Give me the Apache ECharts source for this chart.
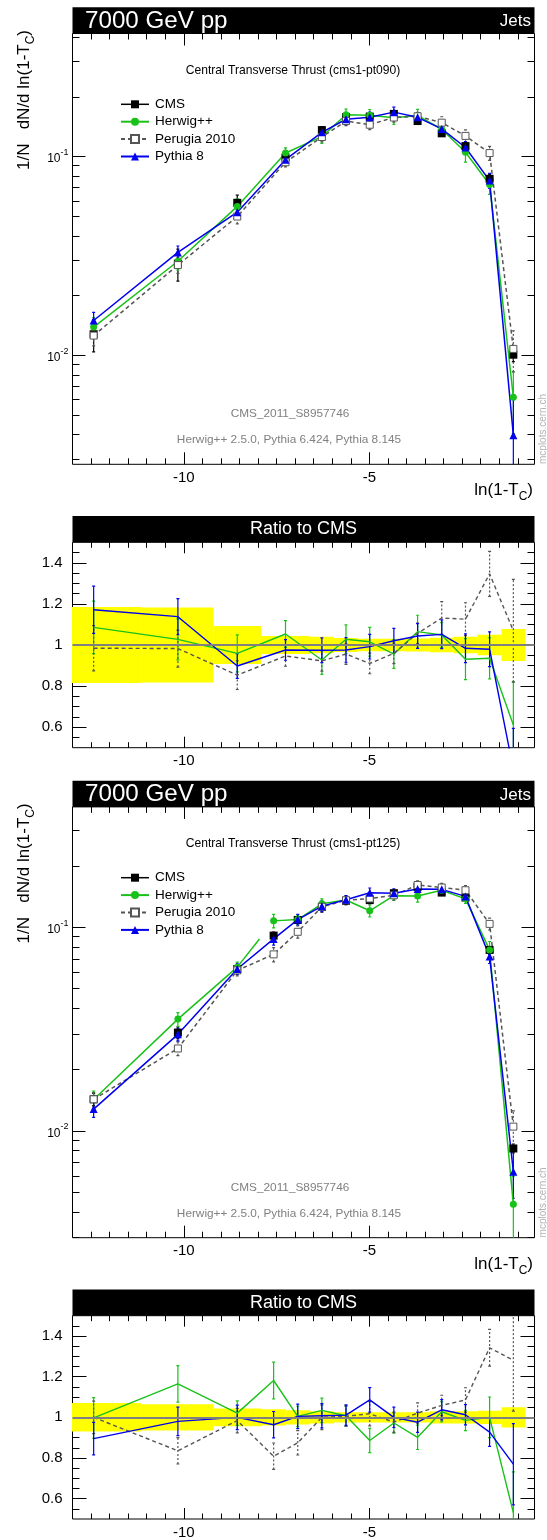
<!DOCTYPE html>
<html><head><meta charset="utf-8">
<script src="https://cdn.jsdelivr.net/npm/echarts@6/dist/echarts.min.js"></script>
<style>html,body{margin:0;padding:0;background:#fff}#c{width:547px;height:1540px}</style>
</head><body><div id="c"></div>
<script>
// ================= DATA =================
// x axis
const X_MIN = -13, X_MAX = -0.55;
const xMajorTicks = [-10, -5];
const xMinorTicks = [-12.5,-12,-11.5,-11,-10.5,-9.5,-9,-8.5,-8,-7.5,-7,-6.5,-6,-5.5,-4.5,-4,-3.5,-3,-2.5,-2,-1.5,-1];
const logMajorTicks = [0.01, 0.1];
const logMinorTicks = [0.003,0.004,0.005,0.006,0.007,0.008,0.009,0.02,0.03,0.04,0.05,0.06,0.07,0.08,0.09,0.2,0.3,0.4];
const ratioMajorTicks = [0.6, 0.8, 1, 1.2, 1.4];
const ratioMinorTicks = [0.55,0.65,0.7,0.75,0.85,0.9,0.95,1.05,1.1,1.15,1.25,1.3,1.35,1.45];

// panel 1 : cms1-pt090
const x1 = [-12.43,-10.16,-8.56,-7.26,-6.28,-5.63,-4.99,-4.34,-3.70,-3.05,-2.41,-1.76,-1.12];
const edges1 = [-13.7,-11.15,-9.2,-7.92,-6.6,-5.955,-5.31,-4.665,-4.02,-3.375,-2.73,-2.085,-1.44,-0.795];
const cms1 = [0.0128,0.0290,0.0586,0.0990,0.136,0.158,0.159,0.164,0.151,0.131,0.113,0.0774,0.0101];
const cms1RelErr = [0.185,0.183,0.092,0.044,0.040,0.034,0.030,0.030,0.032,0.035,0.040,0.050,0.078];
const herwig1 = [0.0139,0.0298,0.0562,0.1043,0.1261,0.1624,0.1615,0.1568,0.1608,0.1374,0.1052,0.0724,0.00617];
const herwig1Err = [0.128,0.10,0.09,0.065,0.07,0.07,0.07,0.07,0.08,0.06,0.10,0.10,0.21];
const perugia1 = [0.0126,0.0285,0.0500,0.0937,0.1255,0.1510,0.1447,0.1573,0.1596,0.1482,0.1272,0.1042,0.0108];
const perugia1Err = [0.11,0.09,0.07,0.05,0.05,0.05,0.05,0.05,0.05,0.08,0.08,0.11,0.25];
const pythia1 = [0.0150,0.0330,0.0526,0.0966,0.1325,0.1542,0.1577,0.1674,0.1576,0.1378,0.1112,0.0758,0.00398];
const pythia1Err = [0.115,0.088,0.06,0.05,0.06,0.06,0.06,0.06,0.06,0.07,0.07,0.085,0.2];

// panel 2 : cms1-pt125
const x2 = [-12.43,-10.16,-8.56,-7.58,-6.93,-6.28,-5.63,-4.99,-4.34,-3.70,-3.05,-2.41,-1.76,-1.12];
const edges2 = [-13.7,-11.15,-9.2,-7.92,-7.26,-6.6,-5.955,-5.31,-4.665,-4.02,-3.375,-2.73,-2.085,-1.44,-0.795];
const cms2 = [0.0143,0.0304,0.0624,0.0910,0.1086,0.126,0.135,0.136,0.147,0.158,0.148,0.140,0.0774,0.0082];
const cms2RelErr = [0.07,0.065,0.044,0.04,0.035,0.03,0.025,0.025,0.025,0.025,0.03,0.03,0.033,0.05];
const herwig2 = [0.01426,0.0354,0.0637,0.1075,0.1091,0.1303,0.1361,0.1205,0.1429,0.1425,0.1521,0.1379,0.0774,0.00436];
const herwig2Err = [0.1,0.09,0.06,0.09,0.05,0.06,0.05,0.06,0.05,0.06,0.05,0.05,0.1,0.2];
const perugia2 = [0.0143,0.0254,0.0614,0.0736,0.0950,0.1260,0.1357,0.1384,0.1435,0.1613,0.1567,0.1520,0.1039,0.0105];
const perugia2Err = [0.08,0.065,0.06,0.065,0.06,0.06,0.05,0.06,0.05,0.05,0.05,0.06,0.09,0.25];
const pythia2 = [0.0128,0.0298,0.0624,0.0877,0.1091,0.1270,0.1365,0.1477,0.1470,0.1542,0.1535,0.1418,0.0718,0.00631];
const pythia2Err = [0.08,0.07,0.06,0.065,0.06,0.06,0.05,0.06,0.05,0.05,0.05,0.05,0.07,0.2];

const subtitles = ['Central Transverse Thrust (cms1-pt090)','Central Transverse Thrust (cms1-pt125)'];

// ================= STYLE / LAYOUT =================
const FONT = "'Liberation Sans', Arial, Helvetica, sans-serif";
const FL = 72.5, FW = 462;
const OFF2 = 773.4;
const layout = [
  {top: 33.5, h: 430.8, logMin: 0.00284, logMax: 0.416},
  {top: 542.3, h: 205.4},
  {top: 33.5 + OFF2, h: 430.8, logMin: 0.00299, logMax: 0.390},
  {top: 542.3 + OFF2, h: 205.4}
];
const C_CMS = '#000000', C_HW = '#19c219', C_PE = '#555555', C_PY = '#0000ee';
// drawing quirk of the reference: in the 2nd plot the Herwig++ line segment after
// the 3rd point is drawn only part of the way to the next point
const HW2_BREAK_AFTER = 2, HW2_BREAK_FRACTION = 0.61;

const panelsData = [
  {x: x1, edges: edges1, cms: cms1, cmsErr: cms1RelErr,
   mc: [[herwig1, herwig1Err], [perugia1, perugia1Err], [pythia1, pythia1Err]], hwBreak: -1},
  {x: x2, edges: edges2, cms: cms2, cmsErr: cms2RelErr,
   mc: [[herwig2, herwig2Err], [perugia2, perugia2Err], [pythia2, pythia2Err]], hwBreak: HW2_BREAK_AFTER}
];
const mcStyle = [
  {name: 'Herwig++', color: C_HW, symbol: 'circle', size: 7, dash: 'solid', fill: C_HW},
  {name: 'Perugia 2010', color: C_PE, symbol: 'rect', size: 7, dash: [4, 3], fill: '#ffffff'},
  {name: 'Pythia 8', color: C_PY, symbol: 'triangle', size: 8, dash: 'solid', fill: C_PY}
];

// ================= AXES =================
const grids = [], xAxes = [], yAxes = [];
layout.forEach((L, g) => {
  grids.push({left: FL, top: L.top, width: FW, height: L.h, show: true, borderColor: '#000', borderWidth: 1, backgroundColor: 'transparent'});
  const xb = {type: 'value', gridIndex: g, min: X_MIN, max: X_MAX, axisLine: {show: false, onZero: false}, splitLine: {show: false}};
  const tickStyle = {color: '#000', width: 1};
  const bigX = L.logMin ? 12 : 11, smallX = L.logMin ? 6 : 5.5;
  xAxes.push(Object.assign({}, xb, {position: 'bottom',
    axisTick: {show: true, inside: true, length: bigX, customValues: xMajorTicks, lineStyle: tickStyle},
    axisLabel: {show: true, customValues: xMajorTicks, margin: 6, fontSize: 15, color: '#000', fontFamily: FONT}}));
  xAxes.push(Object.assign({}, xb, {position: 'bottom',
    axisTick: {show: true, inside: true, length: smallX, customValues: xMinorTicks, lineStyle: tickStyle}, axisLabel: {show: false}}));
  xAxes.push(Object.assign({}, xb, {position: 'top',
    axisTick: {show: true, inside: true, length: bigX, customValues: xMajorTicks, lineStyle: tickStyle}, axisLabel: {show: false}}));
  xAxes.push(Object.assign({}, xb, {position: 'top',
    axisTick: {show: true, inside: true, length: smallX, customValues: xMinorTicks, lineStyle: tickStyle}, axisLabel: {show: false}}));

  if (L.logMin) {
    const yb = {type: 'log', logBase: 10, gridIndex: g, min: L.logMin, max: L.logMax, axisLine: {show: false, onZero: false}, splitLine: {show: false}};
    const lbl = {show: true, customValues: logMajorTicks, margin: 4, color: '#000',
      formatter: v => '{b|10}{e|' + Math.round(Math.log10(v)) + '}',
      rich: {b: {fontSize: 12, fontFamily: FONT, color: '#000', verticalAlign: 'top', padding: [5, 0, 0, 0]},
             e: {fontSize: 9, fontFamily: FONT, color: '#000', verticalAlign: 'top'}}};
    yAxes.push(Object.assign({}, yb, {position: 'left', axisTick: {show: true, inside: true, length: 13, customValues: logMajorTicks, lineStyle: tickStyle}, axisLabel: lbl}));
    yAxes.push(Object.assign({}, yb, {position: 'left', axisTick: {show: true, inside: true, length: 7, customValues: logMinorTicks, lineStyle: tickStyle}, axisLabel: {show: false}}));
    yAxes.push(Object.assign({}, yb, {position: 'right', axisTick: {show: true, inside: true, length: 13, customValues: logMajorTicks, lineStyle: tickStyle}, axisLabel: {show: false}}));
    yAxes.push(Object.assign({}, yb, {position: 'right', axisTick: {show: true, inside: true, length: 7, customValues: logMinorTicks, lineStyle: tickStyle}, axisLabel: {show: false}}));
  } else {
    const yb = {type: 'value', gridIndex: g, min: 0.5, max: 1.5, axisLine: {show: false, onZero: false}, splitLine: {show: false}};
    yAxes.push(Object.assign({}, yb, {position: 'left', axisTick: {show: true, inside: true, length: 14, customValues: ratioMajorTicks, lineStyle: tickStyle},
      axisLabel: {show: true, customValues: ratioMajorTicks, margin: 10, fontSize: 15, color: '#000', fontFamily: FONT}}));
    yAxes.push(Object.assign({}, yb, {position: 'left', axisTick: {show: true, inside: true, length: 7, customValues: ratioMinorTicks, lineStyle: tickStyle}, axisLabel: {show: false}}));
    yAxes.push(Object.assign({}, yb, {position: 'right', axisTick: {show: true, inside: true, length: 14, customValues: ratioMajorTicks, lineStyle: tickStyle}, axisLabel: {show: false}}));
    yAxes.push(Object.assign({}, yb, {position: 'right', axisTick: {show: true, inside: true, length: 7, customValues: ratioMinorTicks, lineStyle: tickStyle}, axisLabel: {show: false}}));
  }
});

// ================= SERIES =================
function errSeries(g, data, color, dashed) {
  return {type: 'custom', xAxisIndex: 4 * g, yAxisIndex: 4 * g, clip: true, silent: true,
    encode: {x: 0, y: [1, 2]}, data: data,
    renderItem: (params, api) => {
      const x = api.value(0), lo = api.value(1), hi = api.value(2);
      const p1 = api.coord([x, lo]), p2 = api.coord([x, hi]);
      const st = {stroke: color, lineWidth: 1.2, lineDash: dashed ? [2, 2] : null};
      const cs = {stroke: color, lineWidth: 1.2};
      return {type: 'group', children: [
        {type: 'line', shape: {x1: p1[0], y1: p1[1], x2: p2[0], y2: p2[1]}, style: st},
        {type: 'line', shape: {x1: p1[0] - 1.5, y1: p1[1], x2: p1[0] + 1.5, y2: p1[1]}, style: cs},
        {type: 'line', shape: {x1: p2[0] - 1.5, y1: p2[1], x2: p2[0] + 1.5, y2: p2[1]}, style: cs}
      ]};
    }};
}
function lineSeries(g, name, pts, S, withSymbols) {
  return {type: 'line', name: name, xAxisIndex: 4 * g, yAxisIndex: 4 * g, data: pts,
    symbol: withSymbols ? S.symbol : 'none', symbolSize: S.size,
    itemStyle: {color: S.fill, borderColor: S.color, borderWidth: S.symbol === 'rect' && S.fill === '#ffffff' ? 1 : 0},
    lineStyle: {color: S.color, width: withSymbols ? 1.5 : 1.4, type: S.dash}, clip: true};
}

const series = [];
panelsData.forEach((P, k) => {
  const gm = 2 * k, gr = 2 * k + 1;
  // ---- main panel ----
  series.push(errSeries(gm, P.x.map((x, i) => [x, P.cms[i] * (1 - P.cmsErr[i]), P.cms[i] * (1 + P.cmsErr[i])]), C_CMS, false));
  series.push({type: 'line', name: 'CMS', xAxisIndex: 4 * gm, yAxisIndex: 4 * gm,
    data: P.x.map((x, i) => [x, P.cms[i]]), symbol: 'rect', symbolSize: 8,
    itemStyle: {color: C_CMS}, lineStyle: {color: C_CMS, width: 1.5, opacity: 0}, clip: true});
  P.mc.forEach((m, j) => {
    const S = mcStyle[j], vals = m[0], err = m[1];
    series.push(errSeries(gm, P.x.map((x, i) => [x, vals[i] - err[i] * P.cms[i], vals[i] + err[i] * P.cms[i]]), S.color, j === 1));
    const pts = P.x.map((x, i) => [x, vals[i]]);
    if (j === 0 && P.hwBreak >= 0) {
      const b = P.hwBreak;
      series.push(lineSeries(gm, S.name, pts.slice(0, b + 1), S, true));
      series.push(lineSeries(gm, S.name, pts.slice(b + 1), S, true));
      // partial segment from point b towards point b+1
      series.push({type: 'custom', xAxisIndex: 4 * gm, yAxisIndex: 4 * gm, clip: true, silent: true,
        encode: {x: [0, 2], y: [1, 3]}, data: [[pts[b][0], pts[b][1], pts[b + 1][0], pts[b + 1][1]]],
        renderItem: (params, api) => {
          const a = api.coord([api.value(0), api.value(1)]), c = api.coord([api.value(2), api.value(3)]);
          const f = HW2_BREAK_FRACTION;
          return {type: 'line', shape: {x1: a[0], y1: a[1], x2: a[0] + f * (c[0] - a[0]), y2: a[1] + f * (c[1] - a[1])},
            style: {stroke: S.color, lineWidth: 1.5}};
        }});
    } else {
      series.push(lineSeries(gm, S.name, pts, S, true));
    }
  });
  // ---- ratio panel ----
  series.push({type: 'custom', xAxisIndex: 4 * gr, yAxisIndex: 4 * gr, clip: true, silent: true,
    encode: {x: [0, 1], y: [2, 3]},
    data: P.cms.map((c, i) => [P.edges[i], P.edges[i + 1], 1 - P.cmsErr[i], 1 + P.cmsErr[i]]),
    renderItem: (params, api) => {
      const a = api.coord([api.value(0), api.value(3)]), b = api.coord([api.value(1), api.value(2)]);
      return {type: 'rect', shape: {x: a[0], y: a[1], width: b[0] - a[0], height: b[1] - a[1]}, style: {fill: '#ffff00'}};
    },
    markLine: {silent: true, symbol: 'none', label: {show: false}, data: [{yAxis: 1}],
      lineStyle: {color: '#808080', width: 2, type: 'solid'}}});
  P.mc.forEach((m, j) => {
    const S = mcStyle[j], vals = m[0], err = m[1];
    const ratio = vals.map((v, i) => v / P.cms[i]);
    series.push(errSeries(gr, P.x.map((x, i) => [x, ratio[i] - err[i], ratio[i] + err[i]]), S.color, j === 1));
    series.push(lineSeries(gr, undefined, P.x.map((x, i) => [x, ratio[i]]), S, false));
  });
});

// ================= TEXT / GRAPHICS =================
const graphic = [];
[0, 1].forEach(k => {
  const o = k * OFF2;
  graphic.push({type: 'rect', shape: {x: FL, y: 7.3 + o, width: FW, height: 26.2}, style: {fill: '#000'}});
  graphic.push({type: 'text', x: 85, y: 21 + o, style: {text: '7000 GeV pp', fill: '#fff', fontSize: 24.2, fontFamily: FONT, verticalAlign: 'middle'}});
  graphic.push({type: 'text', x: 531, y: 21.5 + o, style: {text: 'Jets', fill: '#fff', fontSize: 17, fontFamily: FONT, align: 'right', verticalAlign: 'middle'}});
  graphic.push({type: 'text', x: 293, y: 70.7 + o, style: {text: subtitles[k], fill: '#000', fontSize: 12.1, fontFamily: FONT, align: 'center', verticalAlign: 'middle'}});
  graphic.push({type: 'text', x: 290, y: 414 + o, style: {text: 'CMS_2011_S8957746', fill: '#808080', fontSize: 11.8, fontFamily: FONT, align: 'center', verticalAlign: 'middle'}});
  graphic.push({type: 'text', x: 289, y: 440 + o, style: {text: 'Herwig++ 2.5.0, Pythia 6.424, Pythia 8.145', fill: '#808080', fontSize: 11.8, fontFamily: FONT, align: 'center', verticalAlign: 'middle'}});
  graphic.push({type: 'text', x: 543, y: 464 + o, rotation: Math.PI / 2, style: {text: 'mcplots.cern.ch', fill: '#b4b4b4', fontSize: 10, fontFamily: FONT, align: 'left', verticalAlign: 'middle'}});
  graphic.push({type: 'text', x: 533, y: 482 + o, style: {text: '{n|ln(1-T}{s|C}{n|)}', align: 'right', verticalAlign: 'top',
    rich: {n: {fontSize: 17, fontFamily: FONT, color: '#000', verticalAlign: 'top', lineHeight: 20},
           s: {fontSize: 12, fontFamily: FONT, color: '#000', verticalAlign: 'top', lineHeight: 20, padding: [9, 0, 0, 0]}}}});
  graphic.push({type: 'text', x: 16, y: 30 + o, rotation: Math.PI / 2, style: {text: '{n|1/N   dN/d ln(1-T}{s|C}{n|)}', align: 'right', verticalAlign: 'top',
    rich: {n: {fontSize: 17, fontFamily: FONT, color: '#000', verticalAlign: 'top', lineHeight: 20},
           s: {fontSize: 12, fontFamily: FONT, color: '#000', verticalAlign: 'top', lineHeight: 20, padding: [9, 0, 0, 0]}}}});
  // ratio title bar
  graphic.push({type: 'rect', shape: {x: FL, y: 516 + o, width: FW, height: 26.3}, style: {fill: '#000'}});
  graphic.push({type: 'text', x: 303.5, y: 529.5 + o, style: {text: 'Ratio to CMS', fill: '#fff', fontSize: 18, fontFamily: FONT, align: 'center', verticalAlign: 'middle'}});
});

const legendData = [
  {name: 'CMS', lineStyle: {opacity: 1, width: 1.5, color: '#000'}},
  {name: 'Herwig++'}, {name: 'Perugia 2010'}, {name: 'Pythia 8'}
];
const legends = [0, 1].map(k => ({
  left: 120, top: 97.3 + k * OFF2, padding: 0, orient: 'vertical', itemWidth: 28, itemHeight: 10, itemGap: 3.4,
  selectedMode: false, textStyle: {fontSize: 13.5, fontFamily: FONT, color: '#000', lineHeight: 14, padding: [0, 0, 0, 1]},
  data: legendData
}));

const chart = echarts.init(document.getElementById('c'), null, {renderer: 'canvas'});
chart.setOption({
  animation: false,
  backgroundColor: '#fff',
  grid: grids, xAxis: xAxes, yAxis: yAxes,
  legend: legends,
  series: series,
  graphic: graphic
});
</script>
</body></html>
